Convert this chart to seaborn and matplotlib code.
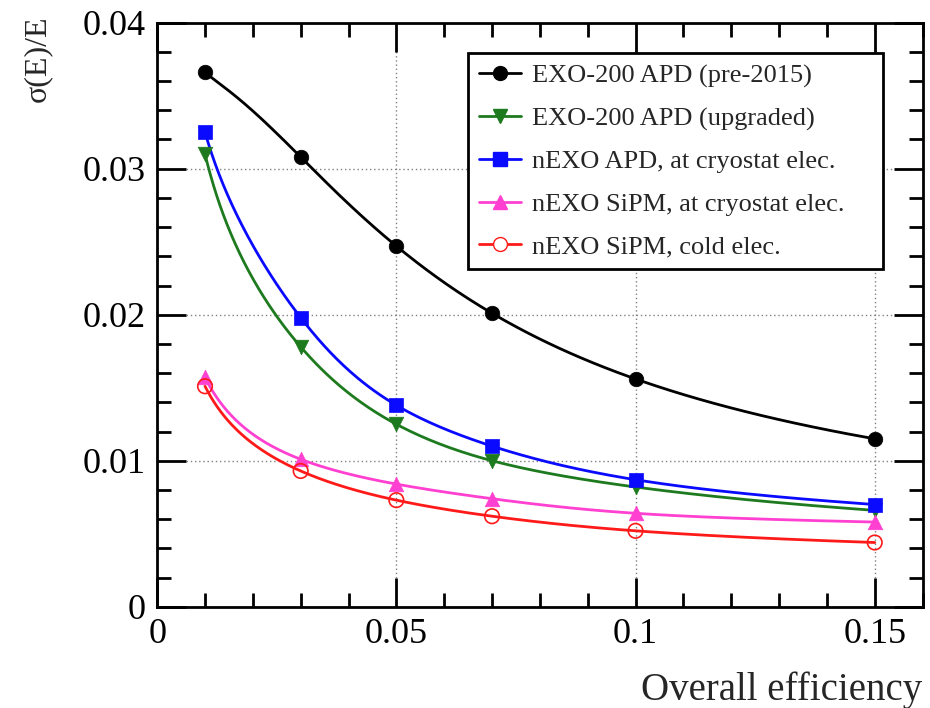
import numpy as np
import pandas as pd
import matplotlib
matplotlib.use("Agg")
import matplotlib.pyplot as plt
from matplotlib.lines import Line2D
from matplotlib.ticker import MultipleLocator
import seaborn as sns

# values
efficiency = [0.01, 0.03, 0.05, 0.07, 0.10, 0.15]
exo_pre2015 = [0.0366, 0.0308, 0.0247, 0.0201, 0.0156, 0.0115]
exo_upgraded = [0.0310, 0.0178, 0.0125, 0.0100, 0.0082, 0.0066]
nexo_apd = [0.0325, 0.0198, 0.0138, 0.0110, 0.0087, 0.0070]
nexo_sipm = [0.0157, 0.0101, 0.0084, 0.0074, 0.0064, 0.0058]
nexo_sipm_cold = [0.0151, 0.0093, 0.0073, 0.0062, 0.0052, 0.0044]

labels = ["EXO-200 APD (pre-2015)", "EXO-200 APD (upgraded)",
          "nEXO APD, at cryostat elec.", "nEXO SiPM, at cryostat elec.",
          "nEXO SiPM, cold elec."]
series = [exo_pre2015, exo_upgraded, nexo_apd, nexo_sipm, nexo_sipm_cold]
colors = ["black", "#1e7a1e", "#0a0aff", "#ff40d0", "#ff1a1a"]
markers = ["o", "v", "s", "^", "o"]
filled = [True, True, True, True, False]


def natural_spline(x, y, xs):
    npt = len(x)
    h = np.diff(x)
    A = np.zeros((npt, npt))
    b = np.zeros(npt)
    A[0, 0] = A[-1, -1] = 1
    for i in range(1, npt - 1):
        A[i, i - 1] = h[i - 1]
        A[i, i] = 2 * (h[i - 1] + h[i])
        A[i, i + 1] = h[i]
        b[i] = 6 * ((y[i + 1] - y[i]) / h[i] - (y[i] - y[i - 1]) / h[i - 1])
    M = np.linalg.solve(A, b)
    k = np.clip(np.searchsorted(x, xs) - 1, 0, npt - 2)
    a = x[k + 1] - xs
    c = xs - x[k]
    hk = h[k]
    return (M[k] * a**3 / (6 * hk) + M[k + 1] * c**3 / (6 * hk)
            + (y[k] / hk - M[k] * hk / 6) * a + (y[k + 1] / hk - M[k + 1] * hk / 6) * c)


def smooth_curve(x, y, n=300):
    # smooth line through the points (spline in log-log), only for drawing
    lx = np.log(np.asarray(x, float))
    ly = np.log(np.asarray(y, float))
    lxs = np.linspace(lx[0], lx[-1], n)
    return np.exp(lxs), np.exp(natural_spline(lx, ly, lxs))


sns.set_theme(style="ticks")
plt.rcParams['font.family'] = ['Liberation Serif', 'DejaVu Serif']

fig = plt.figure(figsize=(9.3, 7.08), dpi=100)
ax = fig.add_axes([0.169, 0.143, 0.823, 0.825])

handles = []
for lab, ys, c, mk, fl in zip(labels, series, colors, markers, filled):
    xs_s, ys_s = smooth_curve(efficiency, ys)
    sns.lineplot(x=xs_s, y=ys_s, color=c, lw=2, ax=ax, legend=False, sort=False)
    pts = pd.DataFrame({"x": efficiency, "y": ys})
    if fl:
        sns.scatterplot(data=pts, x="x", y="y", marker=mk, s=110, color=c,
                        edgecolor=c, linewidth=0.5, ax=ax, zorder=5, legend=False)
    else:
        sns.scatterplot(data=pts, x="x", y="y", marker=mk, s=110, facecolor="none",
                        edgecolor=c, linewidth=1.2, ax=ax, zorder=5, legend=False)
    handles.append(Line2D([0], [0], color=c, lw=2, marker=mk, markersize=10,
                          markerfacecolor=c if fl else "white",
                          markeredgecolor=c, label=lab))

ax.set_xlim(0, 0.16)
ax.set_ylim(0, 0.04)
ax.xaxis.set_minor_locator(MultipleLocator(0.01))
ax.yaxis.set_minor_locator(MultipleLocator(0.002))
ax.set_xticks([0, 0.05, 0.1, 0.15])
ax.set_xticklabels(["0", "0.05", "0.1", "0.15"])
ax.set_yticks([0, 0.01, 0.02, 0.03, 0.04])
ax.set_yticklabels(["0", "0.01", "0.02", "0.03", "0.04"])

ax.grid(True, which="major", color="#808080", ls=(0, (1, 2)), lw=1)
ax.tick_params(which="both", direction="in", top=True, right=True,
               labelsize=26, colors="black", width=2)
ax.tick_params(which="major", length=21, pad=8)
ax.tick_params(which="minor", length=10)
for sp in ax.spines.values():
    sp.set_linewidth(2)
    sp.set_color("black")

ax.set_xlabel("Overall efficiency", fontsize=28, loc="right", labelpad=15)
ax.set_ylabel("σ(E)/E", fontsize=23, loc="top")
ax.yaxis.set_label_coords(-0.137, 1.012)

leg = ax.legend(handles=handles, loc="upper left", bbox_to_anchor=(0.406, 0.5, 0.542, 0.448),
                mode="expand", fontsize=19, frameon=True, fancybox=False, borderpad=0.42,
                labelspacing=0.72, handlelength=1.6, handletextpad=0.4,
                borderaxespad=0)
leg.get_frame().set_edgecolor("black")
leg.get_frame().set_linewidth(2)
leg.get_frame().set_alpha(1)

fig.savefig("out.png", dpi=100)
